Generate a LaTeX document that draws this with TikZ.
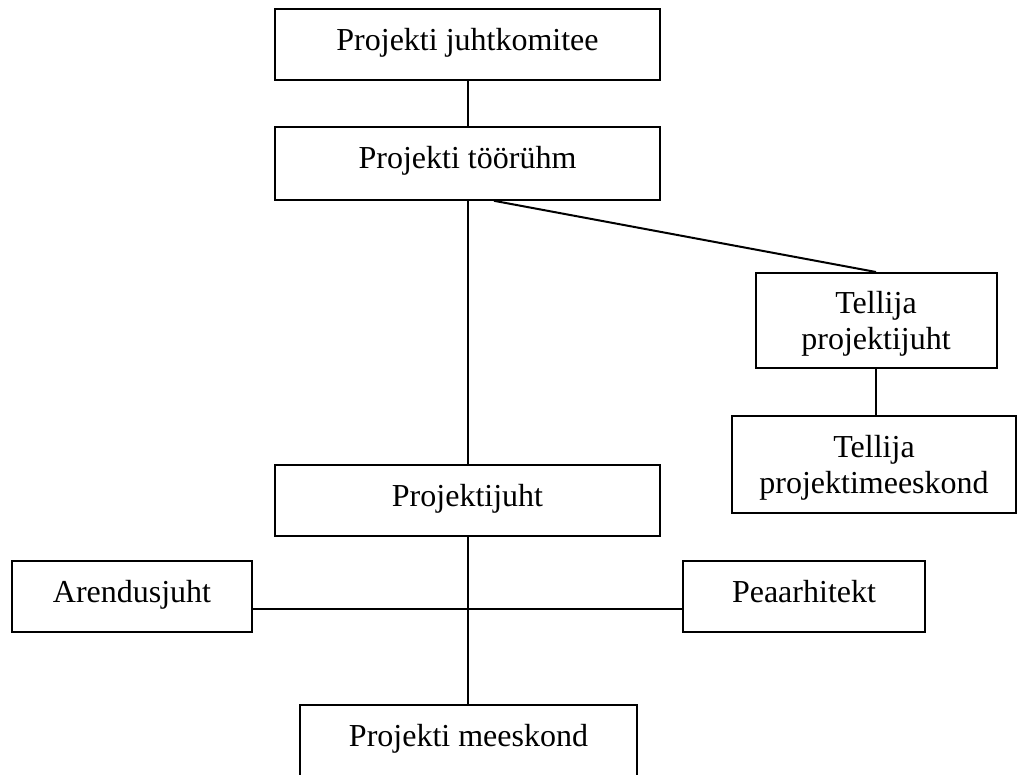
\documentclass[tikz,border=0pt]{standalone}
\usepackage{fontspec}
\setmainfont{Liberation Serif}
\usetikzlibrary{calc}
\tikzset{
  orgbox/.style={draw, line width=2pt, rectangle, inner sep=0pt, align=center,
    font=\fontsize{32}{36}\selectfont, text height=22pt, text depth=11pt},
  twoline/.style={orgbox, text height={}, text depth=0pt},
  link/.style={line width=2pt}
}
\begin{document}
\begin{tikzpicture}[x=1pt,y=-1pt]
\useasboundingbox (0,0) rectangle (1017,774);
\clip (0,0) rectangle (1017,774);
\node[orgbox, minimum width=385, minimum height=71] (b1) at (467.5,44.5) {Projekti juhtkomitee};
\node[orgbox, minimum width=385, minimum height=73] (b2) at (467.5,163.3) {Projekti töörühm};
\node[twoline, minimum width=241, minimum height=95] (b3) at (876,320.5) {Tellija\\projektijuht};
\node[twoline, minimum width=284, minimum height=97] (b4) at (874,464.5) {Tellija\\projektimeeskond};
\node[orgbox, minimum width=385, minimum height=71] (b5) at (467.5,500.5) {Projektijuht};
\node[orgbox, minimum width=240, minimum height=71] (a) at (132,596.5) {Arendusjuht};
\node[orgbox, minimum width=242, minimum height=71] (p) at (804,596.5) {Peaarhitekt};
\node[orgbox, minimum width=337, minimum height=72] (m) at (468.5,741) {Projekti meeskond};
\draw[link] (b1.south) -- (b2.north);
\draw[link] (b2.south) -- (b5.north);
\draw[link] ($(b2.south)+(26.5,0)$) -- (b3.north);
\draw[link] (b3.south) -- (b3.south |- b4.north);
\draw[link] (b5.south) -- (b5.south |- m.north);
\draw[link] ($(a.east)+(0,12.5)$) -- ($(p.west)+(0,12.5)$);
\end{tikzpicture}
\end{document}
